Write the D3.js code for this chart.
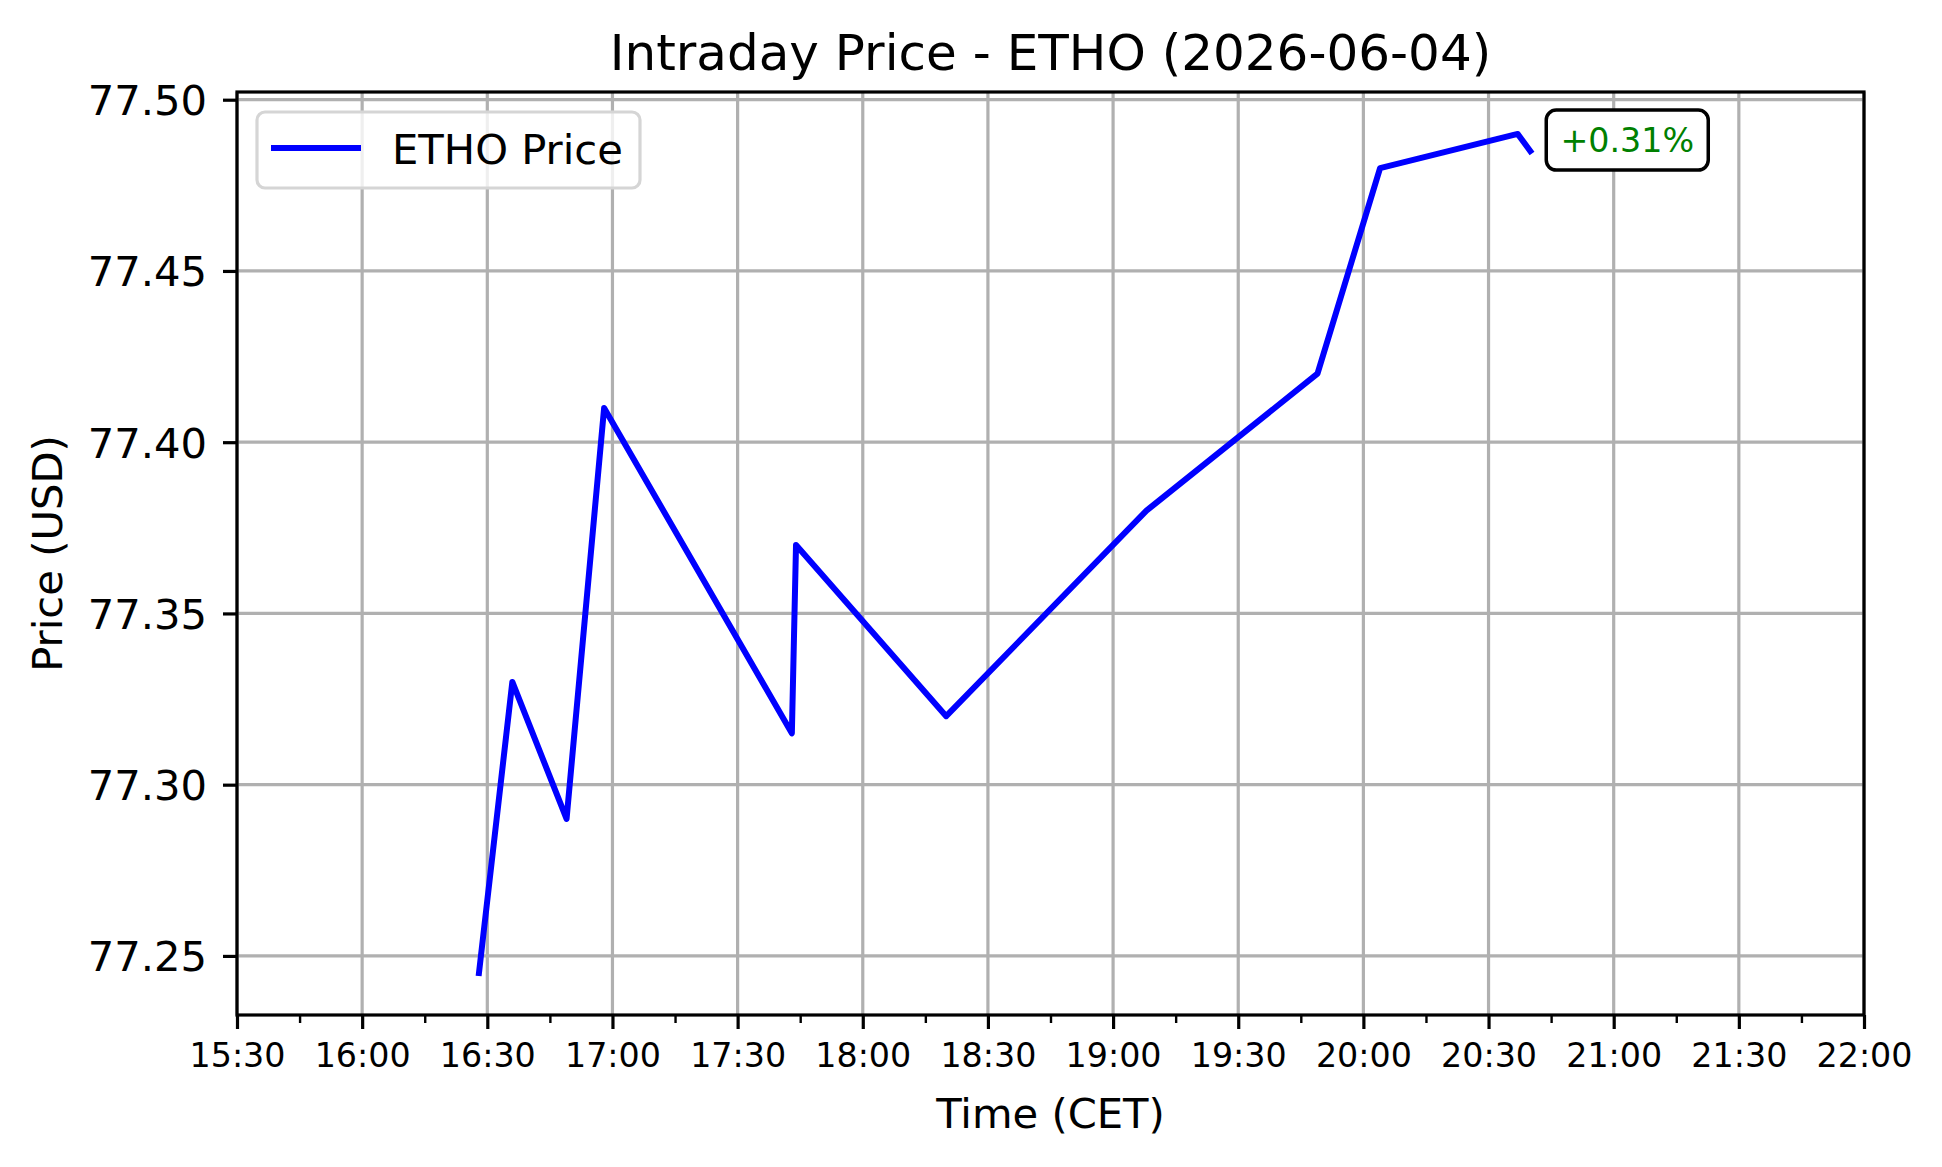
<!DOCTYPE html>
<html>
<head>
<meta charset="utf-8">
<script src="https://cdn.jsdelivr.net/npm/d3@7"></script>
<style>
  html, body { margin: 0; padding: 0; background: #fff; }
  svg { display: block; font-family: "DejaVu Sans", sans-serif; }
</style>
</head>
<body>
<svg id="chart" width="1942" height="1167"></svg>
<script>
// ---- data ----
const chartTitle = "Intraday Price - ETHO (2026-06-04)";
const seriesName = "ETHO Price";
const times = ["16:28", "16:36", "16:49", "16:58", "17:43", "17:44", "18:20", "19:08", "19:49", "20:04", "20:37", "20:40"];
const prices = [77.245, 77.33, 77.29, 77.41, 77.315, 77.37, 77.32, 77.38, 77.42, 77.48, 77.49, 77.485];
const yTicks = [77.25, 77.30, 77.35, 77.40, 77.45, 77.50];
const xStart = "15:30";
const xEnd = "22:00";

// ---- helpers ----
const toDate = s => { const [h, m] = s.split(":").map(Number); return new Date(2026, 5, 4, h, m); };
const data = times.map((t, i) => ({ t: toDate(t), v: prices[i] }));

const W = 1942, H = 1167;
const M = { left: 237, right: 1864, top: 92, bottom: 1015 };
const svg = d3.select("#chart");
svg.append("rect").attr("width", W).attr("height", H).attr("fill", "#fff");

const x = d3.scaleTime().domain([toDate(xStart), toDate(xEnd)]).range([M.left, M.right]);
const vmin = d3.min(prices), vmax = d3.max(prices), pad = (vmax - vmin) * 0.05;
const y = d3.scaleLinear().domain([vmin - pad, vmax + pad]).range([M.bottom, M.top]);

const majorX = d3.timeMinute.every(30).range(toDate(xStart), d3.timeMinute.offset(toDate(xEnd), 1));
const minorX = d3.timeMinute.every(15).range(toDate(xStart), d3.timeMinute.offset(toDate(xEnd), 1));

// ---- grid ----
const grid = svg.append("g").attr("stroke", "#b0b0b0").attr("stroke-width", 3.2);
grid.selectAll("line.gx").data(majorX).join("line")
  .attr("x1", d => x(d)).attr("x2", d => x(d)).attr("y1", M.top).attr("y2", M.bottom);
grid.selectAll("line.gy").data(yTicks).join("line")
  .attr("x1", M.left).attr("x2", M.right).attr("y1", d => y(d)).attr("y2", d => y(d));

// ---- line ----
const line = d3.line().x(d => x(d.t)).y(d => y(d.v));
svg.append("path").datum(data).attr("d", line)
  .attr("fill", "none").attr("stroke", "#0000ff").attr("stroke-width", 6)
  .attr("stroke-linejoin", "round").attr("stroke-linecap", "square");

// ---- axes ----
const xAxis = svg.append("g").attr("transform", `translate(0,${M.bottom})`)
  .call(d3.axisBottom(x).tickValues(majorX).tickFormat(d3.timeFormat("%H:%M")).tickSize(14).tickPadding(14));
xAxis.select(".domain").remove();
xAxis.selectAll(".tick line").attr("stroke", "#000").attr("stroke-width", 3.2);
xAxis.selectAll(".tick text").attr("font-size", 33.3).attr("fill", "#000")
  .attr("font-family", "DejaVu Sans").attr("dy", "0.71em");

const xMinor = svg.append("g").attr("transform", `translate(0,${M.bottom})`)
  .call(d3.axisBottom(x).tickValues(minorX.filter(d => d.getMinutes() % 30 !== 0)).tickFormat("").tickSize(8));
xMinor.select(".domain").remove();
xMinor.selectAll(".tick line").attr("stroke", "#000").attr("stroke-width", 2.4);

const yAxis = svg.append("g").attr("transform", `translate(${M.left},0)`)
  .call(d3.axisLeft(y).tickValues(yTicks).tickFormat(d3.format(".2f")).tickSize(14).tickPadding(16));
yAxis.select(".domain").remove();
yAxis.selectAll(".tick line").attr("stroke", "#000").attr("stroke-width", 3.2);
yAxis.selectAll(".tick text").attr("font-size", 41.7).attr("fill", "#000")
  .attr("font-family", "DejaVu Sans").attr("dy", "0.36em");

// ---- spines ----
svg.append("rect").attr("x", M.left).attr("y", M.top)
  .attr("width", M.right - M.left).attr("height", M.bottom - M.top)
  .attr("fill", "none").attr("stroke", "#000").attr("stroke-width", 3.2);

// ---- labels ----
svg.append("text").attr("x", (M.left + M.right) / 2).attr("y", 70)
  .attr("text-anchor", "middle").attr("font-size", 50).attr("fill", "#000").text(chartTitle);
svg.append("text").attr("x", (M.left + M.right) / 2).attr("y", 1128)
  .attr("text-anchor", "middle").attr("font-size", 41.7).attr("fill", "#000").text("Time (CET)");
svg.append("text").attr("transform", `translate(62,${(M.top + M.bottom) / 2}) rotate(-90)`)
  .attr("text-anchor", "middle").attr("font-size", 41.7).attr("fill", "#000").text("Price (USD)");

// ---- legend ----
const lg = svg.append("g");
lg.append("rect").attr("x", 257).attr("y", 112).attr("width", 383).attr("height", 76)
  .attr("rx", 8).attr("ry", 8).attr("fill", "rgba(255,255,255,0.8)")
  .attr("stroke", "#d5d5d5").attr("stroke-width", 3.2);
lg.append("line").attr("x1", 271).attr("x2", 361).attr("y1", 148).attr("y2", 148)
  .attr("stroke", "#0000ff").attr("stroke-width", 6);
lg.append("text").attr("x", 392).attr("y", 149).attr("dy", "0.36em")
  .attr("font-size", 41.7).attr("fill", "#000").text(seriesName);

// ---- annotation ----
const last = data[data.length - 1], first = data[0];
const pct = (last.v - first.v) / first.v * 100;
const label = (pct >= 0 ? "+" : "") + pct.toFixed(2) + "%";
const ax = x(last.t) + 16, ayc = y(last.v) - 11;
const ann = svg.append("g");
ann.append("rect").attr("x", ax).attr("y", ayc - 30).attr("width", 162).attr("height", 60)
  .attr("rx", 10).attr("ry", 10).attr("fill", "#fff").attr("stroke", "#000").attr("stroke-width", 3.5);
ann.append("text").attr("x", ax + 81).attr("y", ayc).attr("dy", "0.36em")
  .attr("text-anchor", "middle").attr("font-size", 33.3).attr("fill", pct >= 0 ? "#008000" : "#ff0000").text(label);
</script>
</body>
</html>
